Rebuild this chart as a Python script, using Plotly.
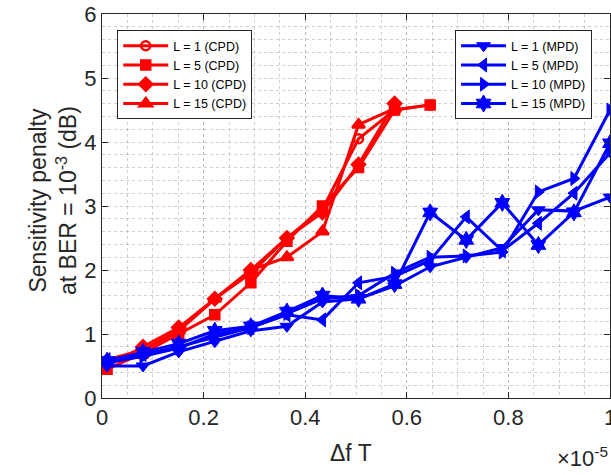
import plotly.graph_objects as go

# x in units of 1e-5
x_cpd = [0.01, 0.0807, 0.151, 0.222, 0.293, 0.364, 0.434, 0.505, 0.576, 0.646]
x_mpd = [0.01, 0.0807, 0.151, 0.222, 0.293, 0.364, 0.434, 0.505, 0.576, 0.646,
         0.717, 0.788, 0.859, 0.929, 1.0]

cpd_L1 = [0.55, 0.75, 1.05, 1.55, 1.95, 2.5, 2.95, 4.05, 4.5, 4.58]
cpd_L5 = [0.45, 0.7, 1.0, 1.3, 1.8, 2.45, 3.0, 3.6, 4.5, 4.58]
cpd_L10 = [0.5, 0.8, 1.1, 1.55, 2.0, 2.5, 2.9, 3.65, 4.6]
cpd_L15 = [0.6, 0.75, 1.05, 1.55, 2.0, 2.2, 2.6, 4.27, 4.52]

mpd_L1 = [0.5, 0.5, 0.72, 0.88, 1.05, 1.12, 1.5, 1.55, 1.75, 2.05, 2.2, 2.35, 2.94, 2.92, 3.14]
mpd_L5 = [0.6, 0.68, 0.8, 0.95, 1.1, 1.3, 1.22, 1.8, 1.9, 2.15, 2.83, 2.3, 2.73, 3.2, 3.83]
mpd_L10 = [0.55, 0.65, 0.78, 1.0, 1.1, 1.32, 1.55, 1.6, 1.95, 2.2, 2.22, 2.28, 3.22, 3.43, 4.5]
mpd_L15 = [0.58, 0.72, 0.85, 1.05, 1.12, 1.35, 1.6, 1.55, 1.78, 2.9, 2.47, 3.05, 2.39, 2.9, 3.98]

cpd_names = ["L = 1 (CPD)", "L = 5 (CPD)", "L = 10 (CPD)", "L = 15 (CPD)"]
mpd_names = ["L = 1 (MPD)", "L = 5 (MPD)", "L = 10 (MPD)", "L = 15 (MPD)"]

x_ticks = [0, 0.2, 0.4, 0.6, 0.8, 1]
x_ticklabels = ["0", "0.2", "0.4", "0.6", "0.8", "1"]

RED = "#ff0000"
BLUE = "#0000ff"

fig = go.Figure()

cpd_series = [cpd_L1, cpd_L5, cpd_L10, cpd_L15]
cpd_symbols = ["circle-open", "square", "diamond", "triangle-up"]
cpd_sizes = [9, 9, 10, 11]
for ys, nm, sym, sz in zip(cpd_series, cpd_names, cpd_symbols, cpd_sizes):
    fig.add_trace(go.Scatter(
        x=x_cpd[:len(ys)], y=ys, name=nm, mode="lines+markers",
        line=dict(color=RED, width=3),
        marker=dict(symbol=sym, size=sz, color=RED, line=dict(color=RED, width=2.5)),
        legend="legend",
    ))

mpd_series = [mpd_L1, mpd_L5, mpd_L10, mpd_L15]
mpd_symbols = ["triangle-down", "triangle-left", "triangle-right", "hexagram"]
mpd_sizes = [12, 12, 12, 13]
for ys, nm, sym, sz in zip(mpd_series, mpd_names, mpd_symbols, mpd_sizes):
    fig.add_trace(go.Scatter(
        x=x_mpd[:len(ys)], y=ys, name=nm, mode="lines+markers",
        line=dict(color=BLUE, width=3),
        marker=dict(symbol=sym, size=sz, color=BLUE, line=dict(color=BLUE, width=1)),
        legend="legend2",
    ))

AX = "#262626"
GRID = "rgba(160,160,160,0.5)"
FONT = "Liberation Sans, Arial, Helvetica, sans-serif"

fig.update_layout(
    width=611, height=475,
    margin=dict(l=102, r=1, t=14, b=77, autoexpand=False),
    paper_bgcolor="white", plot_bgcolor="white",
    font=dict(family=FONT, color=AX, size=22),
    xaxis=dict(
        range=[0, 1], tickvals=x_ticks, ticktext=x_ticklabels,
        ticks="inside", ticklen=6, tickcolor=AX,
        showline=True, linecolor=AX, linewidth=1, mirror="ticks",
        showgrid=True, gridcolor=GRID, griddash="dot", gridwidth=1,
        minor=dict(dtick=0.05, tick0=0, showgrid=True, gridcolor=GRID, griddash="dot", ticks=""),
        zeroline=False, tickfont=dict(size=22), ticklabeloverflow="allow",
    ),
    yaxis=dict(
        range=[0, 6], dtick=1, ticks="inside", ticklen=6, tickcolor=AX,
        showline=True, linecolor=AX, linewidth=1, mirror="ticks",
        showgrid=True, gridcolor=GRID, griddash="dot", gridwidth=1,
        minor=dict(dtick=0.2, tick0=0, showgrid=True, gridcolor=GRID, griddash="dot", ticks=""),
        zeroline=False, tickfont=dict(size=22),
    ),
    legend=dict(
        x=0.03, y=0.958, xanchor="left", yanchor="top",
        bgcolor="white", bordercolor=AX, borderwidth=1,
        font=dict(size=12.5, color="black"), tracegroupgap=0, itemwidth=45,
    ),
    legend2=dict(
        x=0.695, y=0.958, xanchor="left", yanchor="top",
        bgcolor="white", bordercolor=AX, borderwidth=1,
        font=dict(size=12.5, color="black"), tracegroupgap=0, itemwidth=45,
    ),
    showlegend=True,
)

fig.add_annotation(text="Sensitivity penalty<br>at BER = 10<sup>-3</sup> (dB)",
                   xref="paper", yref="paper", x=-0.095, y=0.515,
                   xanchor="center", yanchor="middle", textangle=-90,
                   showarrow=False, font=dict(size=23, color=AX))
fig.add_annotation(text="\u0394f T", xref="paper", yref="paper",
                   x=0.49, y=-0.105, xanchor="center", yanchor="top",
                   showarrow=False, font=dict(size=23, color=AX))
fig.add_annotation(text="\u00d710<sup>-5</sup>", xref="paper", yref="paper",
                   x=1.0, y=-0.196, xanchor="right", yanchor="bottom",
                   showarrow=False, font=dict(size=22, color=AX))

fig.write_html("out.html", post_script="document.body.style.margin='0';",
               config={"displayModeBar": False})
